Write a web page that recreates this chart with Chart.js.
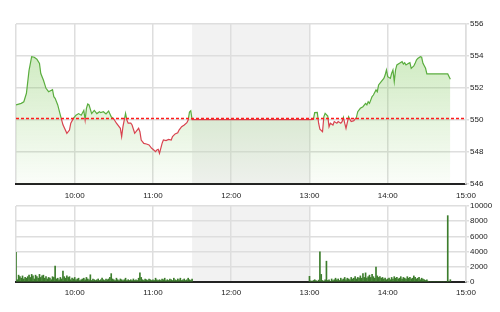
<!DOCTYPE html>
<html>
<head>
<meta charset="utf-8">
<script src="https://cdn.jsdelivr.net/npm/chart.js@4/dist/chart.umd.min.js"></script>
<style>
  html, body { margin: 0; padding: 0; background: #fff; }
  #wrap { position: relative; width: 500px; height: 312px; }
  #price { position: absolute; left: 0; top: 0; }
  #vol { position: absolute; left: 0; top: 200px; }
</style>
</head>
<body>
<div id="wrap">
  <canvas id="price" width="500" height="200"></canvas>
  <canvas id="vol" width="500" height="112"></canvas>
</div>
<script>
// ---- data ----
const prevClose = 550.1;
const priceTicks = [546, 548, 550, 552, 554, 556];
const volTicks = [0, 2000, 4000, 6000, 8000, 10000];
const timeTicks = ['9:15', '10:00', '11:00', '12:00', '13:00', '14:00', '15:00'];
const lunchBreak = ['11:30', '13:00'];

const priceTimes = [
  '9:15','9:19','9:21','9:23','9:25','9:27','9:29','9:31','9:33','9:34','9:36','9:38','9:40','9:43','9:44','9:45',
  '9:47','9:49','9:51','9:54','9:56','9:57','9:59','10:01','10:03','10:05','10:07','10:08','10:09','10:10','10:11',
  '10:13','10:15','10:17','10:19','10:20','10:22','10:24','10:26','10:28','10:30','10:32','10:35','10:36','10:37',
  '10:39','10:40','10:41','10:43','10:44','10:46','10:47','10:49','10:50','10:51','10:53','10:55','10:57','10:59',
  '11:00','11:02','11:03','11:04','11:05','11:07','11:08','11:10','11:12','11:14','11:15','11:17','11:19','11:20',
  '11:22','11:24','11:26','11:27','11:28','11:29','11:30',
  '13:00','13:03','13:04','13:06','13:07','13:08','13:10','13:11','13:12','13:14','13:15','13:16','13:18','13:19',
  '13:21','13:22','13:24','13:25','13:26','13:27','13:28','13:30','13:31','13:32','13:34','13:36','13:37','13:39',
  '13:41','13:43','13:44','13:45','13:46','13:48','13:49','13:51','13:52','13:53','13:55','13:57','13:58','13:59',
  '14:00','14:02','14:03','14:04','14:05','14:06','14:07','14:09','14:11','14:12','14:13','14:14','14:16','14:17',
  '14:18','14:20','14:21','14:22','14:23','14:25','14:26','14:27','14:29','14:30','14:46','14:48'
];
const priceValues = [
  550.94,551.04,551.14,551.67,553.1,553.96,553.92,553.8,553.54,552.9,552.5,551.98,551.77,551.9,551.46,551.35,
  550.94,550.3,549.7,549.17,549.37,549.8,550.1,550.3,550.4,550.3,550.6,550.0,550.73,551.0,550.94,
  550.4,550.6,550.4,550.52,550.46,550.52,550.38,550.56,550.2,550.06,549.8,549.48,548.96,549.58,
  550.42,550.0,549.8,549.8,549.69,549.17,549.27,549.48,549.27,548.75,548.54,548.5,548.44,548.23,
  548.17,548.02,548.13,548.17,547.92,548.54,548.75,548.71,548.79,548.75,548.96,549.13,549.2,549.37,
  549.58,549.69,549.83,550.0,550.5,550.58,550.02,
  550.02,550.04,550.46,550.48,549.8,549.42,549.27,550.2,550.42,550.25,549.58,549.8,549.69,549.9,
  549.8,549.9,549.8,549.9,550.17,549.8,549.48,550.2,550.04,549.9,549.96,550.17,550.52,550.73,
  550.83,551.04,550.94,551.14,551.04,551.46,551.56,551.88,551.77,552.19,552.4,552.6,552.81,553.13,
  552.71,552.6,552.92,553.13,552.4,553.13,553.44,553.54,553.65,553.5,553.58,553.44,553.54,553.58,
  553.23,553.38,553.54,553.75,553.85,553.96,553.92,553.54,553.23,552.88,552.88,552.54
];

// one volume bar per minute, from the session start
const volMorningStart = '9:15';
const volMorning = [
  3900,300,900,700,500,800,400,600,500,700,
  900,600,1000,800,400,900,700,500,1000,600,
  800,900,500,700,400,600,500,300,700,600,
  2100,400,500,300,600,400,1450,700,500,800,
  600,700,300,500,400,600,300,400,500,200,
  300,400,500,300,600,400,300,950,200,400,
  300,200,300,400,200,300,500,300,200,400,
  300,400,600,1100,400,300,200,500,300,200,
  400,300,200,300,500,200,300,200,300,200,
  400,200,300,200,500,1200,600,300,200,400,
  300,200,400,300,200,300,200,500,300,200,
  300,200,400,300,500,200,300,200,400,300,
  200,500,300,200,400,300,500,200,300,400,
  200,300,500,300,200,400
];
const volAfternoonStart = '13:00';
const volAfternoon = [
  750,150,100,200,300,200,100,250,3970,1000,
  200,100,300,2740,200,300,100,400,200,300,
  500,300,400,200,500,300,400,600,300,500,
  400,300,600,400,500,700,400,600,500,800,
  500,1100,600,1200,500,700,900,600,1000,700,
  500,1950,800,600,700,500,600,400,500,300,
  400,500,300,600,400,700,500,600,400,500,
  700,400,600,500,400,700,500,600,400,500,
  800,600,400,500,600,300,500,400,300,200,
  300,100,0,0,0,0,0,0,0,0,
  0,0,0,0,0,0,8730,0,300
];

// ---- styling ----
Chart.defaults.font.family = "'Liberation Sans', Arial, sans-serif";
Chart.defaults.font.size = 8;
Chart.defaults.color = '#222';
const upColor = '#5aad3e';
const downColor = '#d8434f';
const gridColor = '#dedede';

function toMin(t) { const [h, m] = t.split(':').map(Number); return h * 60 + m; }
function fmtMin(v) { return Math.floor(v / 60) + ':' + String(v % 60).padStart(2, '0'); }

function splitGradient(chart) {
  const a = chart.chartArea;
  if (!a) return upColor;
  const f = (chart.scales.y.getPixelForValue(prevClose) - a.top) / (a.bottom - a.top);
  const g = chart.ctx.createLinearGradient(0, a.top, 0, a.bottom);
  g.addColorStop(0, upColor); g.addColorStop(f, upColor);
  g.addColorStop(f, downColor); g.addColorStop(1, downColor);
  return g;
}

function fillGradient(chart) {
  const a = chart.chartArea;
  if (!a) return 'rgba(120,195,80,0.3)';
  const g = chart.ctx.createLinearGradient(0, a.top, 0, a.bottom);
  g.addColorStop(0, 'rgba(118,196,78,0.42)');
  g.addColorStop(1, 'rgba(118,196,78,0.03)');
  return g;
}

const lunchShade = {
  id: 'lunchShade',
  beforeDraw(chart) {
    const { ctx, chartArea: a, scales: { x } } = chart;
    const x0 = x.getPixelForValue(toMin(lunchBreak[0]));
    const x1 = x.getPixelForValue(toMin(lunchBreak[1]));
    ctx.save();
    ctx.fillStyle = '#f2f2f2';
    ctx.fillRect(x0, a.top, x1 - x0, a.bottom - a.top);
    ctx.restore();
  }
};

function timeAxis(axisHeight, pad) {
  return {
    type: 'linear',
    offset: false,
    min: toMin(timeTicks[0]),
    max: toMin(timeTicks[timeTicks.length - 1]),
    afterBuildTicks: s => { s.ticks = timeTicks.map(t => ({ value: toMin(t) })); },
    afterFit: s => { s.height = axisHeight; },
    ticks: { autoSkip: false, maxRotation: 0, padding: pad, callback: (v, i) => i === 0 ? '' : fmtMin(v) },
    grid: { color: gridColor, lineWidth: 1.5, drawTicks: false, offset: false },
    border: { color: '#222', width: 2 }
  };
}

function valueAxis(min, max, tickList) {
  return {
    position: 'right',
    min, max,
    afterBuildTicks: s => { s.ticks = tickList.map(v => ({ value: v })); },
    afterFit: s => { s.width = 34; },
    ticks: { padding: 1, callback: v => String(v) },
    grid: { color: gridColor, lineWidth: 1.5, tickLength: 3 },
    border: { color: gridColor, width: 1.5 }
  };
}

new Chart(document.getElementById('price'), {
  type: 'line',
  data: {
    datasets: [
      {
        data: [timeTicks[0], timeTicks[timeTicks.length - 1]].map(t => ({ x: toMin(t), y: prevClose })),
        borderColor: '#ff1a1a', borderWidth: 1.5, borderDash: [3, 2], pointRadius: 0, fill: false
      },
      {
        data: priceTimes.map((t, i) => ({ x: toMin(t), y: priceValues[i] })),
        borderColor: c => splitGradient(c.chart),
        backgroundColor: c => fillGradient(c.chart),
        borderWidth: 1.2, pointRadius: 0, tension: 0, fill: 'start'
      }
    ]
  },
  options: {
    responsive: false, animation: false,
    layout: { padding: { left: 16, top: 24, right: 0, bottom: 0 } },
    plugins: { legend: { display: false }, tooltip: { enabled: false } },
    scales: { x: timeAxis(16, 7), y: valueAxis(546, 556, priceTicks) }
  },
  plugins: [lunchShade]
});

const volData = [];
volMorning.forEach((v, i) => volData.push({ x: toMin(volMorningStart) + i, y: v }));
volAfternoon.forEach((v, i) => volData.push({ x: toMin(volAfternoonStart) + i, y: v }));

new Chart(document.getElementById('vol'), {
  type: 'bar',
  data: {
    datasets: [{ data: volData, backgroundColor: '#3c7d2c', barThickness: 1 }]
  },
  options: {
    responsive: false, animation: false,
    layout: { padding: { left: 16, top: 6, right: 0, bottom: 0 } },
    plugins: { legend: { display: false }, tooltip: { enabled: false } },
    scales: { x: timeAxis(30, 6), y: valueAxis(0, 10000, volTicks) }
  },
  plugins: [lunchShade]
});
</script>
</body>
</html>
